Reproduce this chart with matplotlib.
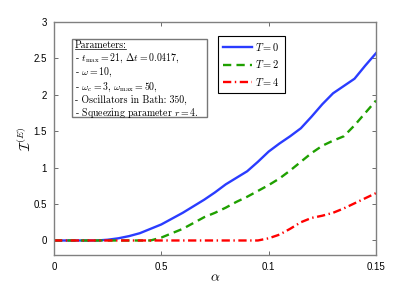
import matplotlib
matplotlib.use("Agg")
import matplotlib.pyplot as plt
from matplotlib.lines import Line2D

plt.rcParams['mathtext.fontset'] = 'cm'
plt.rcParams['font.family'] = ['Liberation Sans', 'DejaVu Sans']

# values
alpha = [0.000, 0.005, 0.010, 0.015, 0.020, 0.025, 0.030, 0.035, 0.040, 0.045,
         0.050, 0.055, 0.060, 0.065, 0.070, 0.075, 0.080, 0.085, 0.090, 0.095,
         0.100, 0.105, 0.110, 0.115, 0.120, 0.125, 0.130, 0.135, 0.140, 0.145,
         0.150]
ie_t0 = [0, 0, 0, 0, 0, 0.01, 0.03, 0.06, 0.10, 0.16,
         0.22, 0.30, 0.38, 0.47, 0.56, 0.66, 0.77, 0.86, 0.95, 1.08,
         1.22, 1.33, 1.43, 1.54, 1.70, 1.87, 2.02, 2.12, 2.22, 2.40,
         2.57]
ie_t2 = [0, 0, 0, 0, 0, 0, 0, 0, 0, 0,
         0.04, 0.10, 0.16, 0.24, 0.32, 0.38, 0.45, 0.53, 0.60, 0.68,
         0.76, 0.85, 0.96, 1.08, 1.20, 1.30, 1.37, 1.43, 1.58, 1.75,
         1.92]
ie_t4 = [0, 0, 0, 0, 0, 0, 0, 0, 0, 0,
         0, 0, 0, 0, 0, 0, 0, 0, 0, 0,
         0.03, 0.08, 0.16, 0.25, 0.31, 0.34, 0.38, 0.44, 0.51, 0.58,
         0.65]

xticks = [0, 0.05, 0.1, 0.15]
xtick_labels = ['0', '0.5', '0.1', '0.15']
yticks = [0, 0.5, 1, 1.5, 2, 2.5, 3]
ytick_labels = ['0', '0.5', '1', '1.5', '2', '2.5', '3']

params = [r'- $t_{\max}=21$, $\Delta t=0.0417$,',
          r'- $\omega=10$,',
          r'- $\omega_c=3$, $\omega_{\max}=50$,',
          r'- Oscillators in Bath: 350,',
          r'- Squeezing parameter $r=4$.']

fig = plt.figure(figsize=(4.15, 3.04), dpi=100)
ax = fig.add_axes([0.130, 0.161, 0.776, 0.767])

ax.plot(alpha, ie_t0, color='#2a3cff', lw=1.7, ls='-', label=r'$T=0$')
ax.plot(alpha, ie_t2, color='#1fa000', lw=1.7, ls=(0, (3.5, 2.2)), label=r'$T=2$')
ax.plot(alpha, ie_t4, color='#ff0000', lw=1.7, ls=(0, (3.5, 1.5, 0.6, 1.5)), label=r'$T=4$')

ax.set_xlim(0, 0.15)
ax.set_ylim(-0.2, 3)
ax.set_xticks(xticks)
ax.set_xticklabels(xtick_labels)
ax.set_yticks(yticks)
ax.set_yticklabels(ytick_labels)
ax.tick_params(direction='in', top=True, right=True, labelsize=7,
               length=3, width=0.6, colors='#555555', labelcolor='black', pad=5)
for s in ax.spines.values():
    s.set_color('#808080')
    s.set_linewidth(1.0)

ax.set_xlabel(r'$\alpha$', fontsize=10, labelpad=-1)
ax.set_ylabel(r'$\mathcal{I}^{(E)}$', fontsize=10, labelpad=0)

leg = ax.legend(loc='upper left', bbox_to_anchor=(0.509, 0.94), fontsize=7.5,
                handlelength=2.8, handletextpad=0.3, labelspacing=0.5,
                borderpad=0.5, borderaxespad=0, fancybox=False, framealpha=1)
leg.get_frame().set_edgecolor('black')
leg.get_frame().set_linewidth(0.8)

# parameter box
ax.add_patch(plt.Rectangle((0.056, 0.592), 0.42, 0.335, transform=ax.transAxes,
                           facecolor='white', edgecolor='#777777', lw=1.0, zorder=4))
head = ax.text(0.064, 0.901, 'Parameters:', transform=ax.transAxes, fontsize=7.1,
               family='cmr10', va='center', ha='left', zorder=5)
ax.text(0.064, 0.873, '\n'.join(params), transform=ax.transAxes, fontsize=7.1,
        family='cmr10', va='top', ha='left', linespacing=1.12, zorder=5)

fig.canvas.draw()
bb = head.get_window_extent().transformed(ax.transAxes.inverted())
ax.add_line(Line2D([bb.x0, bb.x1], [bb.y0 + 0.002, bb.y0 + 0.002], transform=ax.transAxes,
                   color='black', lw=0.5, zorder=5))

fig.savefig('out.png', dpi=100)
